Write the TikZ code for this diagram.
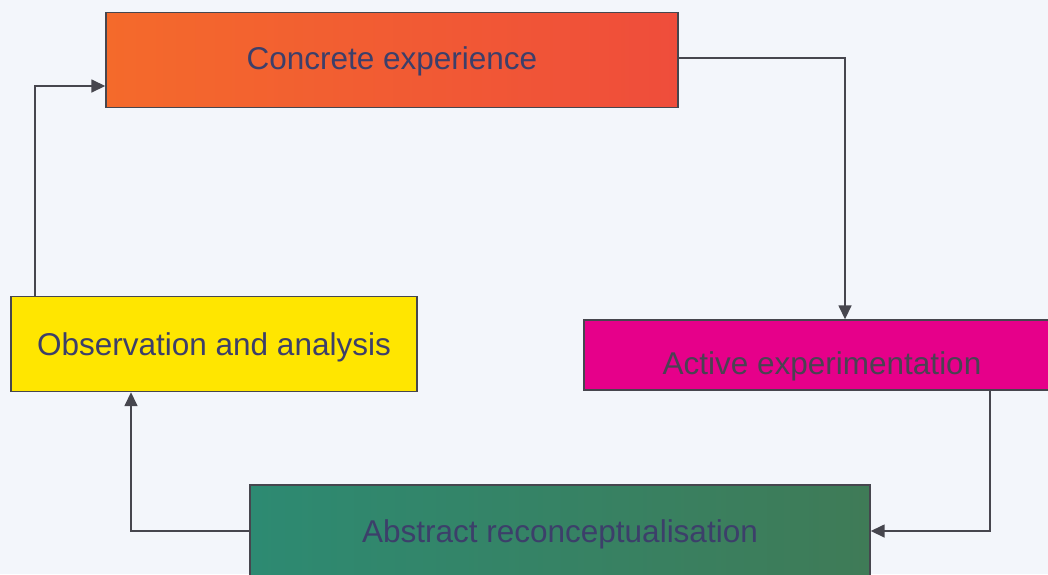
\documentclass[tikz,border=0pt]{standalone}
\usepackage{fontspec}
\setmainfont{Liberation Sans}
\usetikzlibrary{arrows.meta}
\definecolor{paper}{HTML}{F3F6FB}
\definecolor{edge}{HTML}{46464E}
\definecolor{ink}{HTML}{3C3F6A}
\definecolor{ceL}{HTML}{F46A2B}
\definecolor{ceR}{HTML}{EF4D3B}
\definecolor{oaFill}{HTML}{FFE600}
\definecolor{aeFill}{HTML}{E6008A}
\definecolor{aeInk}{HTML}{4A4252}
\definecolor{arL}{HTML}{2D8A72}
\definecolor{arR}{HTML}{3F7B57}
\tikzset{
  stage/.style={draw=edge, line width=1.4pt, inner sep=0pt, text=ink,
    font=\fontsize{31.5}{36}\selectfont, text height=22.6pt, text depth=0pt},
  flow/.style={draw=edge, line width=1.6pt,
    -{Triangle[length=14pt,width=13pt]}}
}
\begin{document}
\begin{tikzpicture}[x=1pt,y=-1pt]
  \useasboundingbox (0,0) rectangle (1048,574);
  \fill[paper] (0,0) rectangle (1048,574);
  \clip (0,0) rectangle (1048,574);

  % the four stages of the cycle
  \node[stage, minimum width=572pt, minimum height=94.5pt,
        left color=ceL, right color=ceR, text height=18.6pt]
        (ce) at (392,60) {Concrete experience};
  \node[stage, minimum width=406pt, minimum height=95pt, fill=oaFill]
        (oa) at (214,344) {Observation and analysis};
  \node[stage, minimum width=476pt, minimum height=70pt, fill=aeFill,
        text=aeInk, text height=38.6pt]
        (ae) at (822,355) {Active experimentation};
  \node[stage, minimum width=620pt, minimum height=92pt,
        left color=arL, right color=arR]
        (ar) at (560,531) {Abstract reconceptualisation};

  % connectors running round the cycle
  \draw[flow] ([yshift=2pt]ce.east) -| ([xshift=23pt]ae.north);
  \draw[flow] ([xshift=168pt]ae.south) |- (ar.east);
  \draw[flow] (ar.west) -| ([xshift=-83pt]oa.south);
  \draw[flow] ([xshift=-179pt]oa.north) |- ([yshift=-26pt]ce.west);
\end{tikzpicture}
\end{document}
